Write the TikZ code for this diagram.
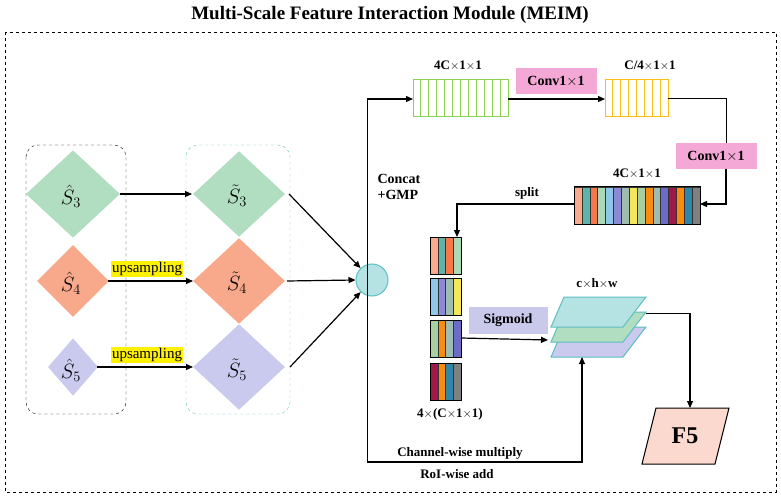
\documentclass[tikz,border=0pt]{standalone}
\usepackage{fontspec}
\setmainfont{Liberation Serif}
\usetikzlibrary{shapes.geometric,arrows.meta}
\definecolor{cA}{HTML}{F9A98C}\definecolor{cB}{HTML}{5FB3A8}\definecolor{cC}{HTML}{F7794B}
\definecolor{cD}{HTML}{A9D9B5}\definecolor{cE}{HTML}{8EC8E8}\definecolor{cF}{HTML}{8C8AD6}
\definecolor{cG}{HTML}{9DBDB3}\definecolor{cH}{HTML}{F5E65A}\definecolor{cI}{HTML}{A8CF9F}
\definecolor{cJ}{HTML}{F98B10}\definecolor{cK}{HTML}{6C6CC8}\definecolor{cL}{HTML}{A01848}
\definecolor{cM}{HTML}{2F86A6}\definecolor{cN}{HTML}{808080}
\definecolor{dgreen}{HTML}{B1DDC1}\definecolor{dsalmon}{HTML}{F8A98B}\definecolor{dlav}{HTML}{CACAEE}
\definecolor{pinkbox}{HTML}{F3A8D6}\definecolor{sigbox}{HTML}{C9C9EC}
\definecolor{lcyan}{HTML}{B5E2E3}\definecolor{edgecyan}{HTML}{5CBFC1}
\definecolor{f5}{HTML}{FBD9CF}
\begin{document}
\begin{tikzpicture}[x=1pt,y=-1pt,
  arr/.style={-{Triangle[length=7pt,width=6pt]},line width=1.2pt},
  ln/.style={line width=1pt},
  lab/.style={font=\bfseries\fontsize{13}{14}\selectfont},
  dia/.style={diamond,draw=none,inner sep=0pt,minimum width=#1,minimum height=#1},
  pbox/.style={fill=pinkbox,font=\bfseries\fontsize{14}{15}\selectfont,minimum width=81pt,minimum height=26pt,inner sep=0pt},
  sym/.style={font=\fontsize{21}{22}\selectfont}]
\useasboundingbox (0,0) rectangle (781,497);
\node[font=\bfseries\fontsize{19}{21}\selectfont] (title) at (390,15) {Multi-Scale Feature Interaction Module (MEIM)};
\draw[dashed] (5,32) rectangle (776,492);
% diamonds
\node[dia=94pt,fill=dgreen,yscale=0.93] (h3) at (73,194) {};
\node[dia=72pt,fill=dsalmon] (h4) at (73,281) {};
\node[dia=50pt,fill=dlav,yscale=1.15] (h5) at (73,367) {};
\node[dia=92pt,fill=dgreen,yscale=0.93] (t3) at (239,194) {};
\node[dia=92pt,fill=dsalmon,yscale=0.93] (t4) at (239,281) {};
\node[dia=92pt,fill=dlav,yscale=0.93] (t5) at (239,367) {};
\draw[dashed,rounded corners=12pt] (26,145) rectangle (126,414);
\draw[dashed,edgecyan,rounded corners=12pt] (186,145) rectangle (290,414);
\node[sym] (lh3) at (71,196) {$\hat{S}_3$};
\node[sym] (lh4) at (71,283) {$\hat{S}_4$};
\node[sym] (lh5) at (71,370) {$\hat{S}_5$};
\node[sym] (lt3) at (237,196) {$\tilde{S}_3$};
\node[sym] (lt4) at (237,283) {$\tilde{S}_4$};
\node[sym] (lt5) at (237,370) {$\tilde{S}_5$};
\node[circle,fill=lcyan,draw=edgecyan,line width=1pt,minimum size=32pt,inner sep=0pt] (cat) at (372,280) {};
\node[fill=yellow,inner sep=1pt,font=\fontsize{15}{16}\selectfont] (up1) at (147,269) {upsampling};
\node[fill=yellow,inner sep=1pt,font=\fontsize{15}{16}\selectfont] (up2) at (147,355) {upsampling};
\draw[arr] (120,194) -- (192,194);
\draw[arr] (108,281) -- (193,281);
\draw[arr] (97,367) -- (193,367);
\draw[arr] (289,194) -- (cat);
\draw[arr] (287,281) -- (cat.west);
\draw[arr] (290,367) -- (cat);
\node[font=\bfseries\fontsize{14}{16}\selectfont,align=left,anchor=west] (cg) at (374,187) {Concat\\+GMP};
% green box
\foreach \i in {0,...,11} \draw[line width=1pt,draw={rgb,255:red,140;green,210;blue,80}] (413+\i*7.9167,80) rectangle ++(7.9167,37);
\node[lab] (lg) at (458,66) {4C$\times$1$\times$1};
\draw[ln] (367,462) -- (367,99);
\draw[arr] (367,99) -- (413,99);
\node[pbox] (c1) at (556,81) {Conv1$\times$1};
\draw[arr] (508,99) -- (605,99);
\foreach \i in {0,...,7} \draw[line width=1pt,draw={rgb,255:red,250;green,190;blue,20}] (605+\i*7.875,80) rectangle ++(7.875,37);
\node[lab] (ly) at (650,66) {C/4$\times$1$\times$1};
\node[pbox] (c2) at (716,156) {Conv1$\times$1};
\draw[ln] (668,99) -- (726,99) -- (726,143);
\draw[arr] (726,169) -- (726,204) -- (700,204);
% colored box
\foreach \c [count=\i from 0] in {cA,cB,cC,cD,cE,cF,cG,cH,cI,cJ,cG,cK,cL,cJ,cM,cN}
  \draw[fill=\c,draw=black!80] (574+\i*7.875,187) rectangle ++(7.875,37);
\draw[line width=1pt] (574,187) rectangle (700,224);
\node[lab] (lc) at (637,174) {4C$\times$1$\times$1};
\node[lab] (sp) at (527,193) {split};
\draw[arr] (574,204) -- (457,204) -- (457,237);
% small boxes
\foreach \y/\cs in {237/{cA,cB,cC,cD},278/{cE,cF,cG,cH},320/{cI,cJ,cG,cK},363/{cL,cJ,cM,cN}}{
  \foreach \c [count=\i from 0] in \cs
    \draw[fill=\c,draw=black!80] (430+\i*7.75,\y) rectangle ++(7.75,37);
  \draw[line width=0.8pt] (430,\y) rectangle (461,\y+37);
}
\node[lab] (l4) at (450,414) {4$\times$(C$\times$1$\times$1)};
\node[fill=sigbox,font=\bfseries\fontsize{14}{15}\selectfont,minimum width=79pt,minimum height=27pt,inner sep=0pt] (sg) at (508,320) {Sigmoid};
% layers
\foreach \o/\c in {30/dlav,15/dgreen,0/lcyan}
  \draw[fill=\c,draw=edgecyan,line width=1pt] (551,327+\o) -- (564,297+\o) -- (646,297+\o) -- (623,327+\o) -- cycle;
\node[lab] (lchw) at (597,283) {c$\times$h$\times$w};
\draw[arr] (461,338) -- (548,340);
\draw[arr] (367,462) -- (582,462) -- (582,357);
\node[lab] (cw) at (460,453) {Channel-wise multiply};
\node[lab] (rw) at (457,474) {RoI-wise add};
\draw[fill=f5,line width=1pt] (656,408) -- (729,408) -- (715,464) -- (642,464) -- cycle;
\node[font=\bfseries\fontsize{24}{26}\selectfont] (F5) at (685,436) {F5};
\draw[ln] (646,313) -- (690,313);
\draw[arr] (690,313) -- (690,408);
\end{tikzpicture}
\end{document}
